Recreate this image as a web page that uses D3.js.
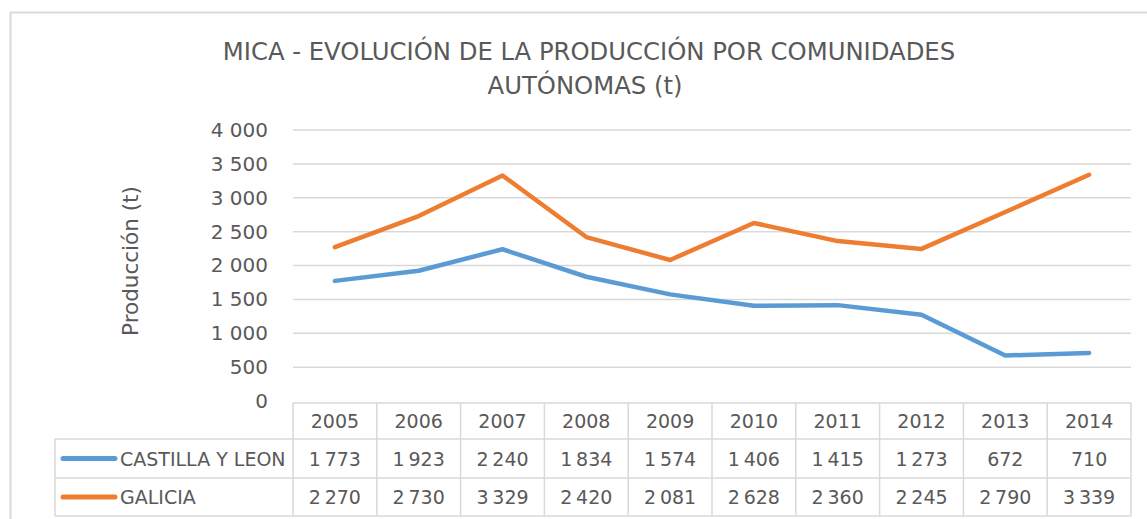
<!DOCTYPE html>
<html>
<head>
<meta charset="utf-8">
<title>Mica</title>
<script src="https://cdn.jsdelivr.net/npm/d3@7"></script>
<style>
  body { margin: 0; background: #fff; }
  text { font-family: "DejaVu Sans", Verdana, sans-serif; fill: #595959; }
</style>
</head>
<body>
<script>
var years = ["2005", "2006", "2007", "2008", "2009", "2010", "2011", "2012", "2013", "2014"];
var castilla = [1773, 1923, 2240, 1834, 1574, 1406, 1415, 1273, 672, 710];
var galicia = [2270, 2730, 3329, 2420, 2081, 2628, 2360, 2245, 2790, 3339];
var seriesNames = ["CASTILLA Y LEON", "GALICIA"];
var seriesColors = ["#5b9bd5", "#ed7d31"];
var yTicks = [0, 500, 1000, 1500, 2000, 2500, 3000, 3500, 4000];

var width = 1147, height = 519;
var plotLeft = 293, plotRight = 1131, plotTop = 130, plotBottom = 401;

var svg = d3.select("body").append("svg").attr("width", width).attr("height", height);

// marco
svg.append("rect").attr("x", 10.5).attr("y", 12.5).attr("width", 1160).attr("height", 530)
  .attr("fill", "#fff").attr("stroke", "#d9d9d9").attr("stroke-width", 2);

var fmt = function (v) { return d3.format(",")(v).replace(/,/g, "\u2009"); };
var fmtTick = function (v) { return d3.format(",")(v).replace(/,/g, " "); };

var x = d3.scaleBand().domain(years).range([plotLeft, plotRight]);
var y = d3.scaleLinear().domain([0, 4000]).range([plotBottom, plotTop]);

// titulo
svg.append("text").attr("x", 589).attr("y", 60).attr("text-anchor", "middle")
  .attr("font-size", 24.3).text("MICA - EVOLUCIÓN DE LA PRODUCCIÓN POR COMUNIDADES");
svg.append("text").attr("x", 585).attr("y", 94).attr("text-anchor", "middle")
  .attr("font-size", 24.3).text("AUTÓNOMAS (t)");

// rejilla
svg.selectAll(".grid").data(yTicks.slice(1)).enter().append("line")
  .attr("x1", plotLeft).attr("x2", plotRight)
  .attr("y1", function (d) { return y(d); }).attr("y2", function (d) { return y(d); })
  .attr("stroke", "#d9d9d9").attr("stroke-width", 1.5);

// eje y
var yAxis = svg.append("g").attr("transform", "translate(" + plotLeft + ",0)")
  .call(d3.axisLeft(y).tickValues(yTicks).tickFormat(fmtTick).tickSize(0).tickPadding(25));
yAxis.select(".domain").remove();
yAxis.selectAll("text").attr("font-size", 20).attr("fill", "#595959")
  .style("font-family", "DejaVu Sans");

svg.append("text").attr("transform", "translate(138,261) rotate(-90)")
  .attr("text-anchor", "middle").attr("font-size", 21.5).text("Producción (t)");

// lineas
var line = d3.line()
  .x(function (d, i) { return x(years[i]) + x.bandwidth() / 2; })
  .y(function (d) { return y(d); });
[castilla, galicia].forEach(function (s, k) {
  svg.append("path").datum(s).attr("d", line).attr("fill", "none")
    .attr("stroke", seriesColors[k]).attr("stroke-width", 4.5)
    .attr("stroke-linejoin", "round").attr("stroke-linecap", "round");
});

// tabla de datos
var rowTop = [403, 439, 478], rowBottom = [439, 478, 516];
var tableLeft = 55;
var g = svg.append("g").attr("stroke", "#d9d9d9").attr("stroke-width", 1.5);
g.append("line").attr("x1", plotLeft).attr("x2", plotRight).attr("y1", rowTop[0]).attr("y2", rowTop[0]);
[rowTop[1], rowTop[2], rowBottom[2]].forEach(function (yy) {
  g.append("line").attr("x1", tableLeft).attr("x2", plotRight).attr("y1", yy).attr("y2", yy);
});
years.forEach(function (yr) {
  g.append("line").attr("x1", x(yr)).attr("x2", x(yr)).attr("y1", rowTop[0]).attr("y2", rowBottom[2]);
});
g.append("line").attr("x1", plotRight).attr("x2", plotRight).attr("y1", rowTop[0]).attr("y2", rowBottom[2]);
g.append("line").attr("x1", tableLeft).attr("x2", tableLeft).attr("y1", rowTop[1]).attr("y2", rowBottom[2]);

svg.selectAll(".yr").data(years).enter().append("text")
  .attr("x", function (d) { return x(d) + x.bandwidth() / 2; })
  .attr("y", (rowTop[0] + rowBottom[0]) / 2 + 7)
  .attr("text-anchor", "middle").attr("font-size", 19).text(function (d) { return d; });

[castilla, galicia].forEach(function (s, k) {
  var cy = (rowTop[k + 1] + rowBottom[k + 1]) / 2;
  svg.append("line").attr("x1", 63).attr("x2", 115).attr("y1", cy).attr("y2", cy)
    .attr("stroke", seriesColors[k]).attr("stroke-width", 5).attr("stroke-linecap", "round");
  svg.append("text").attr("x", 120).attr("y", cy + 7).attr("font-size", 19).text(seriesNames[k]);
  svg.selectAll(".v" + k).data(s).enter().append("text")
    .attr("x", function (d, i) { return x(years[i]) + x.bandwidth() / 2; })
    .attr("y", cy + 7).attr("text-anchor", "middle").attr("font-size", 19)
    .text(function (d) { return fmt(d); });
});
</script>
</body>
</html>
